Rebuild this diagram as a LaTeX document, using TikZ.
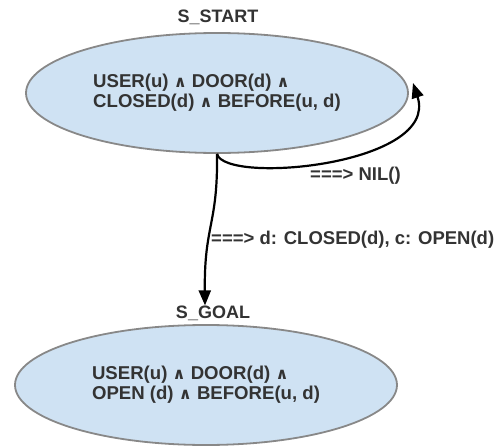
\documentclass[tikz,border=0pt]{standalone}
\usepackage{fontspec}
\setmainfont{Liberation Sans}
\newfontfamily\wedgefont{DejaVu Sans}
\usetikzlibrary{shapes.geometric,arrows.meta}
\definecolor{statefill}{HTML}{CFE2F3}
\definecolor{stateedge}{HTML}{888888}
\definecolor{txt}{HTML}{333333}
\newcommand{\myand}{{\wedgefont\bfseries\fontsize{16}{16}\selectfont ∧}}
\tikzset{
  statebox/.style={ellipse, draw=stateedge, line width=1.8pt, fill=statefill,
    minimum width=382pt, minimum height=120pt, inner sep=0pt,
    text=txt, font=\bfseries\fontsize{18.6}{20}\selectfont, align=left},
  titlebox/.style={text=txt, font=\bfseries\fontsize{18}{20}\selectfont, inner sep=2pt},
  edgelbl/.style={text=txt, font=\bfseries\fontsize{18.5}{20}\selectfont, inner sep=0pt, anchor=west},
  trans/.style={draw=black, line width=2.2pt, -{Triangle[length=15pt,width=12pt]}}
}
\begin{document}
\begin{tikzpicture}[x=1pt,y=-1pt]
\useasboundingbox (0,0) rectangle (504,447);
\node[statebox] (start) at (217,93) {USER(u) \myand{} DOOR(d) \myand\\CLOSED(d) \myand{} BEFORE(u, d)};
\node[titlebox] (startlbl) at (218,17) {S\_START};
\node[statebox] (goal) at (206,385) {USER(u) \myand{} DOOR(d) \myand\\OPEN (d) \myand{} BEFORE(u, d)};
\node[titlebox] (goallbl) at (213,313) {S\_GOAL};
\coordinate (looptip) at (413,83);
\draw[trans] (start.south) .. controls (225,185) and (440,165) .. (looptip);
\draw[trans] (start.south) .. controls (218,225) and (204,225) .. ([xshift=-8pt,yshift=-2pt]goallbl.north);
\node[edgelbl] (nil) at (310,176) {===> NIL()};
\node[edgelbl] (open) at (211,240) {===> d: CLOSED(d), c: OPEN(d)};
\end{tikzpicture}
\end{document}
